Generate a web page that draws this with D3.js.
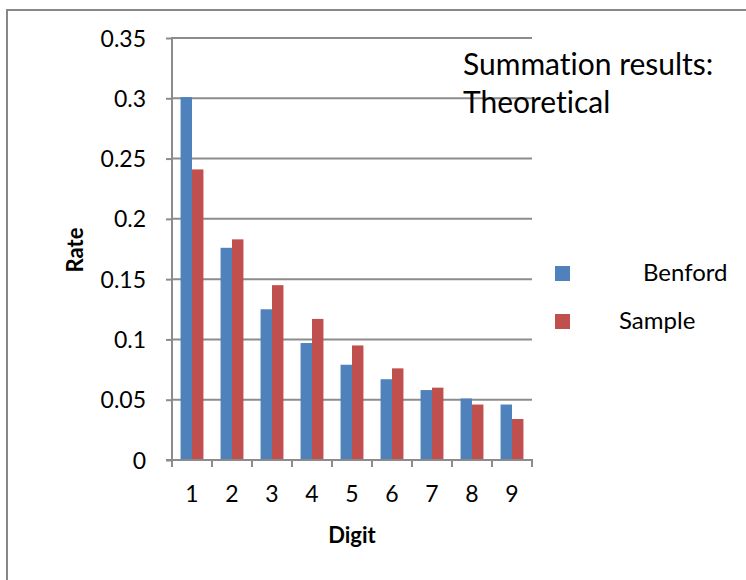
<!DOCTYPE html>
<html>
<head>
<meta charset="utf-8">
<script src="https://cdn.jsdelivr.net/npm/d3@7"></script>
<style>
  body { margin: 0; background: #fff; }
  text { font-family: Lato, "Open Sans", sans-serif; fill: #000; font-variant-ligatures: none; font-feature-settings: "liga" 0, "dlig" 0; }
</style>
</head>
<body>
<div id="chart"></div>
<script>
// data
var digits = ["1", "2", "3", "4", "5", "6", "7", "8", "9"];
var seriesNames = ["Benford", "Sample"];
var benford = [0.301, 0.176, 0.125, 0.097, 0.079, 0.067, 0.058, 0.051, 0.046];
var sample = [0.241, 0.183, 0.145, 0.117, 0.095, 0.076, 0.060, 0.046, 0.034];
var yTicks = [0, 0.05, 0.1, 0.15, 0.2, 0.25, 0.3, 0.35];
var colors = ["#4f81bd", "#c0504d"];

var width = 746, height = 580;
var plotLeft = 172, plotRight = 532, plotTop = 38, plotBottom = 460;

var svg = d3.select("#chart").append("svg")
  .attr("width", width)
  .attr("height", height);

// outer frame
svg.append("rect")
  .attr("x", 7).attr("y", 10)
  .attr("width", 760).attr("height", 600)
  .attr("fill", "none")
  .attr("stroke", "#878787")
  .attr("stroke-width", 2);

var x0 = d3.scaleBand().domain(digits).range([plotLeft, plotRight]);
var bw = x0.bandwidth();
var gap = bw * 1.5 / 3.5;
var x1 = d3.scaleBand().domain(seriesNames).range([gap / 2, bw - gap / 2]);

var y = d3.scaleLinear().domain([0, 0.35]).range([plotBottom, plotTop]);

// gridlines
svg.append("g").selectAll("line")
  .data(yTicks.slice(1))
  .enter().append("line")
  .attr("x1", plotLeft).attr("x2", plotRight)
  .attr("y1", function(d) { return y(d); })
  .attr("y2", function(d) { return y(d); })
  .attr("stroke", "#8c8c8c")
  .attr("stroke-width", 2);

// bars
var rows = digits.map(function(d, i) { return { digit: d, vals: [benford[i], sample[i]] }; });
var groups = svg.append("g").selectAll("g")
  .data(rows)
  .enter().append("g")
  .attr("transform", function(d) { return "translate(" + x0(d.digit) + ",0)"; });

groups.selectAll("rect")
  .data(function(d) { return d.vals.map(function(v, j) { return { name: seriesNames[j], v: v, j: j }; }); })
  .enter().append("rect")
  .attr("x", function(d) { return x1(d.name); })
  .attr("width", x1.bandwidth())
  .attr("y", function(d) { return y(d.v); })
  .attr("height", function(d) { return plotBottom - y(d.v); })
  .attr("fill", function(d) { return colors[d.j]; });

// y axis
var yAxis = d3.axisLeft(y)
  .tickValues(yTicks)
  .tickFormat(function(d) { return d === 0 ? "0" : String(+d.toFixed(2)); })
  .tickSize(6)
  .tickPadding(20);
var gy = svg.append("g")
  .attr("transform", "translate(" + plotLeft + ",0)")
  .call(yAxis);
gy.select(".domain").attr("stroke", "#8c8c8c").attr("stroke-width", 2)
  .attr("d", "M0," + (plotBottom + 1) + "V" + (plotTop - 1));
gy.selectAll(".tick line").attr("stroke", "#8c8c8c").attr("stroke-width", 2);
gy.selectAll(".tick text").style("font-size", "23px").attr("dy", "0.35em");

// x axis
var xAxis = d3.axisBottom(x0).tickSize(0).tickPadding(26);
var gx = svg.append("g")
  .attr("transform", "translate(0," + plotBottom + ")")
  .call(xAxis);
gx.select(".domain").attr("stroke", "#8c8c8c").attr("stroke-width", 2)
  .attr("d", "M" + (plotLeft - 6) + ",0H" + (plotRight + 1));
gx.selectAll(".tick text").style("font-size", "23px");
gx.selectAll(".sep")
  .data(d3.range(digits.length + 1))
  .enter().append("line")
  .attr("x1", function(i) { return plotLeft + i * bw; })
  .attr("x2", function(i) { return plotLeft + i * bw; })
  .attr("y1", 0).attr("y2", 7)
  .attr("stroke", "#8c8c8c")
  .attr("stroke-width", 2);

// axis titles
svg.append("text")
  .attr("x", 352).attr("y", 543)
  .attr("text-anchor", "middle")
  .style("font-size", "22px").style("font-weight", "bold")
  .text("Digit");
svg.append("text")
  .attr("transform", "translate(83,250) rotate(-90)")
  .attr("text-anchor", "middle")
  .style("font-size", "22px").style("font-weight", "bold")
  .text("Rate");

// title text
svg.append("text")
  .attr("x", 463).attr("y", 75)
  .style("font-size", "30px")
  .text("Summation results:");
svg.append("text")
  .attr("x", 463).attr("y", 113)
  .style("font-size", "30px")
  .text("Theoretical");

// legend
var legend = svg.append("g").selectAll("g")
  .data(seriesNames)
  .enter().append("g")
  .attr("transform", function(d, i) { return "translate(555," + (266 + i * 48) + ")"; });
legend.append("rect")
  .attr("width", 15).attr("height", 15)
  .attr("fill", function(d, i) { return colors[i]; });
legend.append("text")
  .attr("x", function(d, i) { return i === 0 ? 88 : 64; })
  .attr("y", 15)
  .style("font-size", "24px")
  .text(function(d) { return d; });
</script>
</body>
</html>
